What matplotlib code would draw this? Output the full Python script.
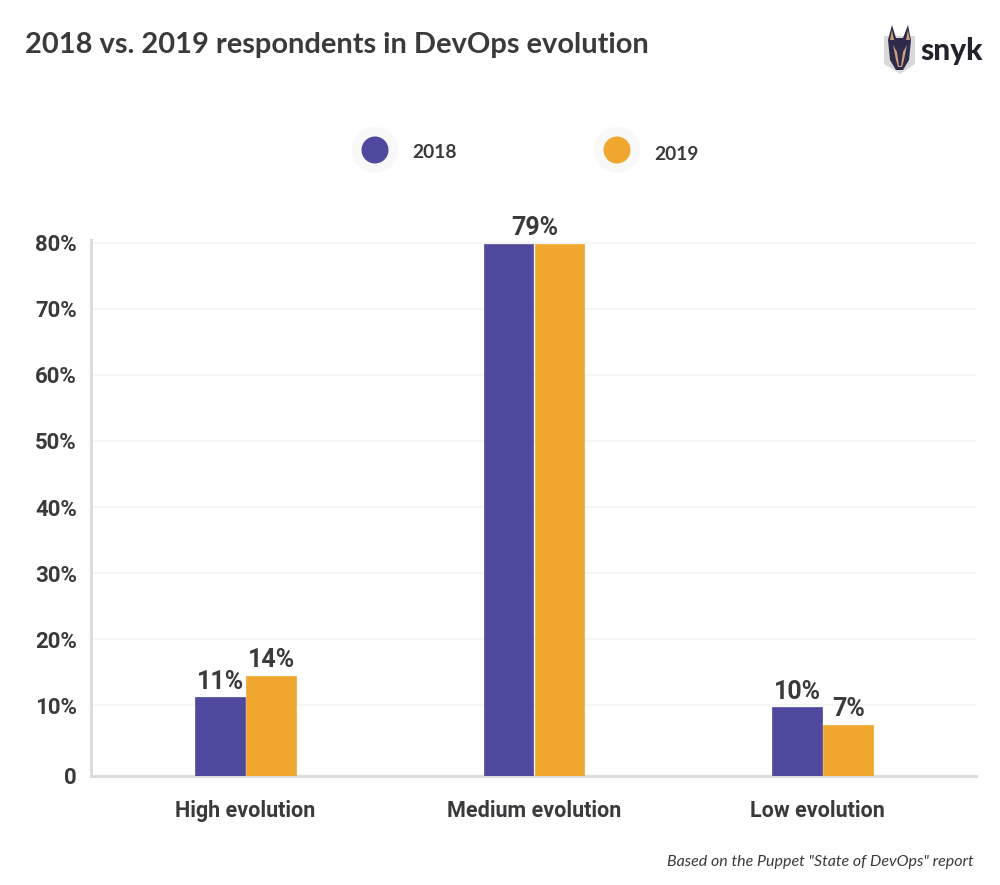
import numpy as np
import matplotlib
matplotlib.use("Agg")
import matplotlib.pyplot as plt
from matplotlib.patches import Circle, Polygon

categories = ["High evolution", "Medium evolution", "Low evolution"]
series_names = ["2018", "2019"]
values_2018 = [11.2, 79.8, 9.7]
values_2019 = [14.4, 79.8, 7.2]
labels_2018 = ["11%", "", "10%"]
labels_2019 = ["14%", "", "7%"]
center_label = "79%"
y_ticks = [0, 10, 20, 30, 40, 50, 60, 70, 80]
y_tick_labels = ["0", "10%", "20%", "30%", "40%", "50%", "60%", "70%", "80%"]

PURPLE = "#4F4A9D"
ORANGE = "#EFA72F"
TEXT = "#3A3A3D"
W, H = 1000, 885

fig = plt.figure(figsize=(W / 100, H / 100), dpi=100, facecolor="white")
left, right, top, bottom = 91, 976, 240, 776
ax = fig.add_axes([left / W, 1 - bottom / H, (right - left) / W, (bottom - top) / H])

# the source axis has a taller first band than the others
fwd = lambda y: np.interp(y, [0, 10, 80, 200], [0, 71, 536, 1334])
inv = lambda v: np.interp(v, [0, 71, 536, 1334], [0, 10, 80, 200])
ax.set_yscale("function", functions=(fwd, inv))
ax.set_ylim(0, 80.4)
ax.set_xlim(-0.5355, 2.532)

x = np.arange(len(categories))
bw = 49.5 / 288.5
gap = 0.7 / 288.5
bars_a = ax.bar(x - bw / 2 - gap, values_2018, bw, color=PURPLE, edgecolor=PURPLE, linewidth=0.5,
                joinstyle="round", zorder=3)
bars_b = ax.bar(x + bw / 2 + gap, values_2019, bw, color=ORANGE, edgecolor=ORANGE, linewidth=0.5,
                joinstyle="round", zorder=3)

LABEL = dict(fontsize=18, fontweight="bold", family="Roboto", color=TEXT, zorder=4,
             ha="center", va="bottom", textcoords="offset points", xytext=(0.5, 2.8))
for bars, labs in ((bars_a, labels_2018), (bars_b, labels_2019)):
    for b, lab in zip(bars, labs):
        if lab:
            ax.annotate(lab, (b.get_x() + b.get_width() / 2, b.get_height()), **LABEL)
ax.annotate(center_label, (x[1], values_2018[1]), **LABEL)

# the last category label sits a little left of its group in the source
ax.set_xticks([0, 1, 1.983], categories, family="Roboto", fontweight="bold", fontsize=15.5, color=TEXT)
ax.set_yticks(y_ticks, y_tick_labels, family="Roboto", fontweight="bold", fontsize=16, color=TEXT)
ax.minorticks_off()
ax.tick_params(axis="both", length=0)
ax.tick_params(axis="x", pad=17.3)
ax.tick_params(axis="y", pad=10)
ax.set_axisbelow(True)
ax.grid(axis="y", color="#F6F6F6", linewidth=1.5)
ax.xaxis.grid(False)
for s in ("top", "right"):
    ax.spines[s].set_visible(False)
for s in ("left", "bottom"):
    ax.spines[s].set_color("#DCDCDC")
    ax.spines[s].set_linewidth(2.2)

# overlay in pixel coordinates for legend, title, logo
ov = fig.add_axes([0, 0, 1, 1], facecolor="none")
ov.set_xlim(0, W)
ov.set_ylim(H, 0)
ov.axis("off")

fig.text(25 / W, 1 - 45.5 / H, "2018 vs. 2019 respondents in DevOps evolution", family="Lato",
         fontweight="bold", fontsize=20.9, color=TEXT, va="center", ha="left")

for cx, col, name, tx, ty in ((375, PURPLE, series_names[0], 412, 152),
                              (617, ORANGE, series_names[1], 654, 154)):
    ov.add_patch(Circle((cx, 150), 23, color="#F8F8F8", lw=0))
    ov.add_patch(Circle((cx, 150), 13.5, color=col, lw=0))
    ov.text(tx, ty, name, family="Lato", fontweight="bold", fontsize=13.8, color=TEXT,
            va="center", ha="left")

fig.text(974 / W, 1 - 862 / H, 'Based on the Puppet "State of DevOps" report', family="Lato",
         style="italic", fontsize=11.5, color=TEXT, ha="right", va="center")

# logo
ov.add_patch(Polygon([(884, 36), (915, 36), (915, 64), (900, 74), (884, 64)], color="#D9D9D9", lw=0))
ov.add_patch(Polygon([(888, 40), (892, 25), (896, 38), (903, 38), (908, 25), (911, 40),
                      (909, 60), (903, 70), (896, 70), (890, 60)], color="#2E2B4A", lw=0))
ov.add_patch(Polygon([(893, 45), (897, 52), (899, 66), (901, 66), (903, 52), (907, 45),
                      (904, 60), (902, 67), (898, 67), (896, 60)], color="#C9A07A", lw=0))
ov.add_patch(Polygon([(890, 40), (892, 30), (894, 40)], color="#C9A07A", lw=0))
ov.add_patch(Polygon([(906, 40), (908, 30), (910, 40)], color="#C9A07A", lw=0))
ov.text(920, 51, "snyk", family="Lato", fontweight="black", fontsize=21.5, color="#23232F",
        va="center", ha="left")

fig.savefig("out.png", dpi=100)
